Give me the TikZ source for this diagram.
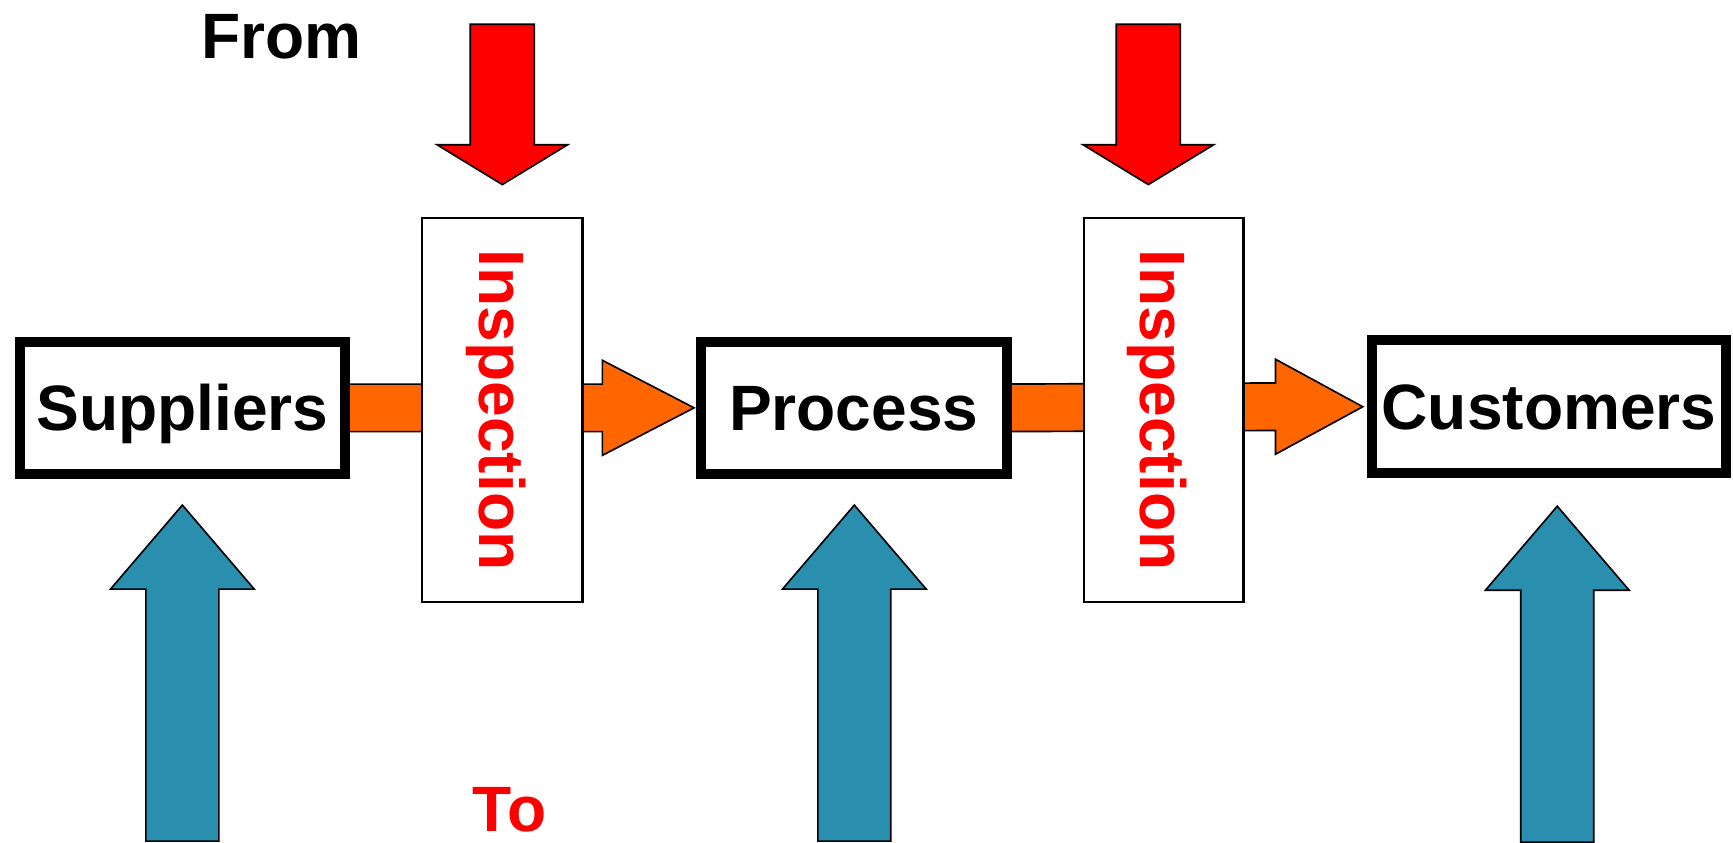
\documentclass[tikz,border=0pt]{standalone}
\usepackage{fontspec}
\setmainfont{Liberation Sans}
\usetikzlibrary{calc}
\pgfdeclarelayer{background}
\pgfsetlayers{background,main}
\definecolor{flowred}{RGB}{255,0,0}
\definecolor{floworange}{RGB}{255,102,0}
\definecolor{flowteal}{RGB}{42,143,175}
\begin{document}
\begin{tikzpicture}[x=0.5pt,y=-0.5pt,
  bigfont/.style={font=\fontsize{29}{33}\selectfont\bfseries},
  stage/.style={draw=black, line width=4.5pt, fill=white, minimum height=60pt,
    inner sep=0pt, outer sep=0pt, bigfont, text height=20.8pt, text depth=0pt},
  inspbox/.style={draw=black, line width=1pt, fill=white, minimum width=72.5pt,
    minimum height=174pt, inner sep=0pt, outer sep=0pt},
  insptext/.style={rotate=-90, text=flowred, bigfont, text height=20.8pt,
    text depth=0pt, inner sep=0pt},
  headtext/.style={bigfont, inner sep=0pt, anchor=base},
  flowarrow/.style={draw=black, line width=0.75pt, fill=floworange, line join=miter},
  inarrow/.style={draw=black, line width=0.75pt, fill=flowred, line join=miter},
  uparrow/.style={draw=black, line width=0.75pt, fill=flowteal, line join=miter}]
\useasboundingbox (0,0) rectangle (1568,762);

% main stages
\node[stage, minimum width=147pt] (sup) at (165,369) {Suppliers};
\node[stage, minimum width=138.5pt] (proc) at (772.5,369) {Process};
\node[stage, minimum width=160.5pt] (cust) at (1401.5,368) {Customers};

% orange flow arrows (behind inspection boxes)
\coordinate (o1t) at ($(proc.west)+(-6,0)$);
\coordinate (o2t) at ($(cust.west)+(-8,0)$);
\begin{pgfonlayer}{background}
\draw[flowarrow] ($(sup.east)+(0,-21.5)$) -- ($(o1t)+(-83,-21.5)$) -- ($(o1t)+(-83,-43)$)
  -- (o1t) -- ($(o1t)+(-83,43)$) -- ($(o1t)+(-83,21.5)$) -- ($(sup.east)+(0,21.5)$) -- cycle;
\draw[flowarrow] ($(proc.east)+(0,-21.5)$) -- ($(o2t)+(-79,-21.5)$) -- ($(o2t)+(-79,-43)$)
  -- (o2t) -- ($(o2t)+(-79,43)$) -- ($(o2t)+(-79,21.5)$) -- ($(proc.east)+(0,21.5)$) -- cycle;
\end{pgfonlayer}

% inspection boxes
\node[inspbox] (insp1) at (454.5,371) {};
\node[inspbox, minimum width=72pt] (insp2) at (1053,371) {};
\node[insptext] (insp1t) at (insp1.center) {Inspection};
\node[insptext] (insp2t) at (insp2.center) {Inspection};

% red arrows into inspection
\coordinate (r1) at ($(insp1.north)+(0,-30)$);
\coordinate (r2) at ($(insp2.north)+(-14,-30)$);
\draw[inarrow] (r1) -- ++(-59,-36) -- ++(30,0) -- ++(0,-109) -- ++(58,0) -- ++(0,109) -- ++(30,0) -- cycle;
\draw[inarrow] (r2) -- ++(-59,-36) -- ++(30,0) -- ++(0,-109) -- ++(58,0) -- ++(0,109) -- ++(30,0) -- cycle;

% teal arrows from below
\coordinate (b1) at ($(sup.south)+(0,28)$);
\coordinate (b2) at ($(proc.south)+(0.5,28)$);
\coordinate (b3) at ($(cust.south)+(7.5,30)$);
\foreach \t in {b1,b2,b3}
  \draw[uparrow] (\t) -- ++(65,76) -- ++(-32,0) -- ++(0,228) -- ++(-66,0) -- ++(0,-228) -- ++(-32,0) -- cycle;

% captions
\node[headtext] (from) at (255,53) {From};
\node[headtext, text=flowred] (to) at (461,752) {To};
\end{tikzpicture}
\end{document}
